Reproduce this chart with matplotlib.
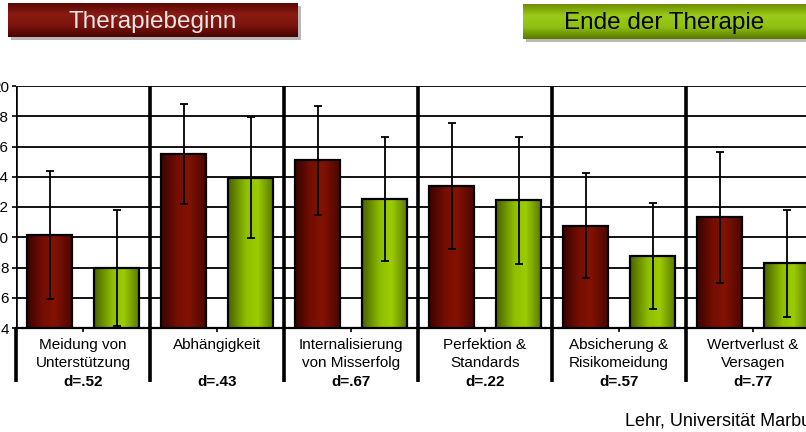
import matplotlib
matplotlib.use('Agg')
import matplotlib.pyplot as plt
import numpy as np
from matplotlib.colors import LinearSegmentedColormap

plt.rcParams['font.family'] = ['Liberation Sans', 'DejaVu Sans']

# Daten
kategorien = [['Meidung von', 'Unterstützung'],
              ['Abhängigkeit'],
              ['Internalisierung', 'von Misserfolg'],
              ['Perfektion &', 'Standards'],
              ['Absicherung &', 'Risikomeidung'],
              ['Wertverlust &', 'Versagen']]
effekt = ['d=.52', 'd=.43', 'd=.67', 'd=.22', 'd=.57', 'd=.77']
beginn_mw = [10.15, 15.5, 15.1, 13.4, 10.75, 11.32]
beginn_sd = [4.2, 3.3, 3.6, 4.15, 3.47, 4.34]
ende_mw = [7.97, 13.95, 12.55, 12.45, 8.75, 8.27]
ende_sd = [3.85, 4.0, 4.1, 4.2, 3.5, 3.55]
y_ticks = [4, 6, 8, 10, 12, 14, 16, 18, 20]

W, H = 806, 432
fig = plt.figure(figsize=(W / 100, H / 100), dpi=100)

# Achse reicht rechts über das Bild hinaus (abgeschnitten wie im Original)
ax = fig.add_axes([16 / W, (H - 328) / H, (820 - 16) / W, (328 - 86) / H])

rot_cmap = LinearSegmentedColormap.from_list(
    'rot', [(0, '#3a0300'), (0.35, '#750e02'), (0.6, '#841200'), (1, '#4a0600')])
gruen_cmap = LinearSegmentedColormap.from_list(
    'gruen', [(0, '#4a6400'), (0.4, '#8fbf00'), (0.65, '#9ccc00'), (1, '#587800')])

n = len(beginn_mw)
x = np.arange(n)
breite = 0.336
grad = np.linspace(0, 1, 64).reshape(1, -1)


def gradient_bars(xpos, werte, cmap):
    # Balken mit horizontalem Farbverlauf zeichnen
    bars = ax.bar(xpos, np.array(werte) - 4, bottom=4, width=breite,
                  color='none', edgecolor='black', linewidth=1.6, zorder=4)
    for b in bars:
        x0, y0 = b.get_x(), b.get_y()
        im = ax.imshow(grad, extent=[x0, x0 + b.get_width(), y0, y0 + b.get_height()],
                       aspect='auto', cmap=cmap, zorder=3, interpolation='bicubic')
        im.set_clip_path(b)
    return bars


gradient_bars(x + 0.25, beginn_mw, rot_cmap)
gradient_bars(x + 0.75, ende_mw, gruen_cmap)

ax.errorbar(x + 0.25, beginn_mw, yerr=beginn_sd, fmt='none', ecolor='black',
            elinewidth=1.3, capsize=3, capthick=1.3, zorder=5)
ax.errorbar(x + 0.75, ende_mw, yerr=ende_sd, fmt='none', ecolor='black',
            elinewidth=1.3, capsize=3, capthick=1.3, zorder=5)

ax.set_xlim(0, n)
ax.set_ylim(4, 20)
ax.set_yticks(y_ticks)
ax.set_yticklabels([str(v) for v in y_ticks], fontsize=11)
for v in y_ticks:
    ax.axhline(v, color='#111111', lw=1.4, zorder=1)

# Trennlinien zwischen den Kategorien, nach unten verlängert
ax.set_xticks(np.arange(n + 1))
ax.set_xticklabels([])
ax.tick_params(axis='x', which='major', length=39, width=2.6, color='black', direction='out')
ax.set_xticks(x + 0.5, minor=True)
ax.tick_params(axis='x', which='minor', length=3, width=1.2, direction='out')
for b in range(n + 1):
    ax.axvline(b, color='black', lw=2.6, zorder=2)
ax.tick_params(axis='y', length=3, width=1.2, pad=2)

for s in ax.spines.values():
    s.set_visible(False)
ax.spines['bottom'].set_visible(True)
ax.spines['bottom'].set_linewidth(1.6)

trans = ax.get_xaxis_transform()
for i, name in enumerate(kategorien):
    for j, zeile in enumerate(name):
        ax.text(i + 0.5, (328 - 345 - 18 * j) / 242, zeile, transform=trans,
                ha='center', va='center', fontsize=11)
    ax.text(i + 0.5, (328 - 382) / 242, effekt[i], transform=trans,
            ha='center', va='center', fontsize=11, fontweight='bold')


def kopf_box(x0, y0, x1, y1, farben, text, textfarbe):
    # Überschriftsbalken mit vertikalem Verlauf und Schatten
    sax = fig.add_axes([(x0 + 3) / W, (H - y1 - 3) / H, (x1 - x0) / W, (y1 - y0) / H])
    sax.set_facecolor('#b8b8b8')
    sax.set_xticks([])
    sax.set_yticks([])
    for s in sax.spines.values():
        s.set_visible(False)
    bax = fig.add_axes([x0 / W, (H - y1) / H, (x1 - x0) / W, (y1 - y0) / H])
    cm = LinearSegmentedColormap.from_list('k', farben)
    bax.imshow(np.linspace(0, 1, 64).reshape(-1, 1), aspect='auto', cmap=cm,
               extent=[0, 1, 0, 1], interpolation='bicubic')
    bax.set_axis_off()
    bax.text(0.5, 0.45, text, ha='center', va='center', fontsize=17.5,
             color=textfarbe, transform=bax.transAxes)


kopf_box(8, 3, 298, 37, ['#5a0805', '#8a1c12', '#7a140c', '#4a0404'],
         'Therapiebeginn', '#e6e6e6')
kopf_box(523, 4, 806, 39, ['#6e8e00', '#9acb1a', '#8fbf10', '#5a7800'],
         'Ende der Therapie', 'black')

fig.text(625 / W, (H - 422) / H, 'Lehr, Universität Marburg', fontsize=13,
         ha='left', va='center')

fig.savefig('out.png', dpi=100)
